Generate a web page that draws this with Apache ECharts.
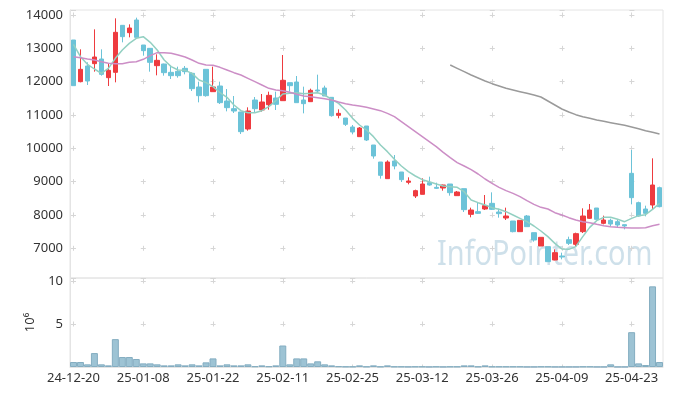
<!DOCTYPE html>
<html>
<head>
<meta charset="utf-8">
<script src="https://cdn.jsdelivr.net/npm/echarts@6/dist/echarts.min.js"></script>
<style>
html,body{margin:0;padding:0;background:#fff;}
#chart{width:673px;height:396px;}
</style>
</head>
<body>
<div id="chart"></div>
<script>
const dates = ['24-12-20','24-12-23','24-12-24','24-12-26','24-12-27','24-12-30','25-01-02','25-01-03','25-01-06','25-01-07',
'25-01-08','25-01-09','25-01-10','25-01-13','25-01-14','25-01-15','25-01-16','25-01-17','25-01-20','25-01-21',
'25-01-22','25-01-23','25-01-24','25-01-31','25-02-03','25-02-04','25-02-05','25-02-06','25-02-07','25-02-10',
'25-02-11','25-02-12','25-02-13','25-02-14','25-02-17','25-02-18','25-02-19','25-02-20','25-02-21','25-02-24',
'25-02-25','25-02-26','25-02-27','25-02-28','25-03-04','25-03-05','25-03-06','25-03-07','25-03-10','25-03-11',
'25-03-12','25-03-13','25-03-14','25-03-17','25-03-18','25-03-19','25-03-20','25-03-21','25-03-24','25-03-25',
'25-03-26','25-03-27','25-03-28','25-03-31','25-04-01','25-04-02','25-04-03','25-04-04','25-04-07','25-04-08',
'25-04-09','25-04-10','25-04-11','25-04-14','25-04-15','25-04-16','25-04-17','25-04-18','25-04-21','25-04-22',
'25-04-23','25-04-24','25-04-25','25-04-28','25-04-29'];

const openP = [13250,12000,12470,12540,12680,12120,12280,13690,13470,13850,
13100,13000,12480,12530,12280,12310,12400,12250,11840,12370,
11700,11870,11420,11190,11090,10580,11450,11150,11310,11510,
11430,11970,11990,11450,11400,11750,11810,11530,10990,10910,
10640,10350,10670,10100,9590,9090,9620,9290,8980,8570,
8620,8970,8830,8810,8930,8580,8790,8020,8100,8180,
8350,8090,7910,7820,7500,7970,7470,7070,7050,6650,
6770,7260,7120,7500,7900,8210,7750,7840,7800,7710,
9250,8370,8180,8300,8820];
const closeP = [11880,12370,12020,12740,12220,12340,13480,13350,13610,13330,
12930,12580,12640,12270,12180,12180,12300,11790,11580,11580,
11840,11370,11220,11120,10500,11120,11190,11390,11590,11320,
12040,11880,11370,11340,11740,11720,11570,10980,11050,10720,
10490,10610,10250,9770,9190,9590,9470,9060,9020,8730,
8930,8900,8800,8900,8670,8690,8160,8150,8050,8280,
8170,8040,7970,7500,7840,7650,7250,7330,6600,6870,
6740,7150,7440,7970,8150,7870,7850,7730,7700,7670,
8520,7970,8050,8900,8250];
const lowP = [11880,11980,11900,12300,12180,11870,11980,13180,13330,13330,
12780,12300,12190,12180,12080,12120,12220,11720,11380,11550,
11700,11330,11110,11060,10430,10530,11060,11100,11160,11150,
11430,11700,11370,11050,11400,11660,11570,10950,10900,10670,
10420,10350,10220,9690,9090,9090,9370,8990,8920,8510,
8620,8880,8780,8730,8580,8570,8090,7930,8030,8150,
8150,7920,7850,7480,7500,7650,7200,7070,6600,6640,
6670,7100,7060,7460,7880,7870,7720,7670,7630,7570,
8320,7950,7960,8170,8230];
const highP = [13250,12970,12580,13570,12970,12550,13900,13700,13720,13920,
13100,13010,12820,12540,12480,12450,12470,12280,12000,12370,
12450,12000,11780,11570,11090,11230,11540,11630,11700,11700,
12800,11970,12170,11850,11790,12210,11880,11530,11170,10910,
10700,10640,10670,10100,9590,9640,9800,9290,9130,8760,
9100,9150,8970,8910,8930,8720,8790,8220,8390,8600,
8680,8190,8220,7820,7840,8000,7470,7330,7050,6970,
6870,7350,7470,8200,8330,8210,7980,7890,7850,7710,
9950,8400,8280,9700,8850];

const ma5 = [13120,12750,12520,12380,12250,12400,12700,12950,13150,13300,
13350,13180,12950,12650,12450,12350,12340,12250,12050,11970,
11850,11670,11530,11300,11130,11070,11070,11130,11250,11430,
11630,11650,11670,11640,11650,11670,11600,11470,11350,11150,
10900,10700,10550,10350,10100,9900,9670,9470,9300,9170,
9060,9000,8930,8870,8850,8830,8700,8450,8370,8300,
8220,8170,8100,8000,7900,7800,7670,7520,7350,7150,
6980,6970,7050,7350,7630,7830,7930,7930,7870,7800,
7900,7980,8010,8170,8350];
const ma20 = [12750,12720,12680,12650,12600,12550,12540,12540,12580,12600,
12670,12780,12870,12870,12850,12800,12740,12650,12550,12500,
12490,12430,12350,12270,12200,12100,12000,11900,11800,11750,
11730,11680,11620,11570,11550,11520,11490,11450,11390,11340,
11300,11270,11230,11180,11130,11050,10950,10800,10650,10500,
10350,10200,10050,9880,9720,9570,9470,9360,9230,9080,
8950,8830,8730,8650,8550,8430,8320,8230,8180,8070,
8000,7920,7850,7800,7770,7720,7680,7650,7630,7620,
7610,7610,7620,7680,7720];
const ma60 = [null,null,null,null,null,null,null,null,null,null,
null,null,null,null,null,null,null,null,null,null,
null,null,null,null,null,null,null,null,null,null,
null,null,null,null,null,null,null,null,null,null,
null,null,null,null,null,null,null,null,null,null,
null,null,null,null,12500,12400,12300,12200,12110,12020,
11940,11870,11800,11750,11700,11650,11600,11540,11420,11300,
11180,11090,11010,10950,10900,10850,10810,10770,10730,10690,
10640,10590,10530,10480,10430];
// volume in millions
const volume = [0.58,0.58,0.31,1.62,0.31,0.19,3.24,1.16,1.16,0.93,
0.42,0.42,0.31,0.19,0.19,0.31,0.19,0.31,0.19,0.54,
1.0,0.19,0.31,0.19,0.19,0.31,0.08,0.19,0.08,0.19,
2.5,0.31,1.0,1.0,0.42,0.66,0.31,0.19,0.08,0.05,
0.05,0.19,0.05,0.19,0.05,0.19,0.05,0.05,0.03,0.05,
0.05,0.02,0.05,0.02,0.05,0.05,0.19,0.19,0.05,0.19,
0.05,0.05,0.05,0.05,0.05,0.02,0.02,0.05,0.05,0.02,
0.02,0.02,0.02,0.05,0.05,0.02,0.02,0.31,0.02,0.02,
4.05,0.42,0.23,9.38,0.58];

const candles = dates.map((d, i) => [openP[i], closeP[i], lowP[i], highP[i]]);

const FONT = 'Noto Sans';
const crossColor = '#d6d6d6';
const chart = echarts.init(document.getElementById('chart'));
chart.setOption({
  animation: false,
  backgroundColor: '#fff',
  grid: [
    {left: 70, right: 10, top: 10, height: 268, show: true, borderColor: '#e4e4e4', borderWidth: 1},
    {left: 70, right: 10, top: 278, height: 89, show: true, borderColor: '#e4e4e4', borderWidth: 1}
  ],
  graphic: [{
    type: 'text', left: 437, top: 238, scaleX: 0.85, z: 0, zlevel: 0,
    style: {text: 'InfoPointer.com', font: '34px "Noto Sans"', fill: 'rgba(165,198,216,0.55)'}
  }],
  xAxis: [
    {type: 'category', gridIndex: 0, data: dates, boundaryGap: true,
     axisLine: {show: false}, axisTick: {show: false}, axisLabel: {show: false, interval: 9},
     splitLine: {show: true, interval: 9, alignWithLabel: true,
       lineStyle: {color: crossColor, width: 1, type: [5, 28.33], dashOffset: 30.83}}},
    {type: 'category', gridIndex: 1, data: dates, boundaryGap: true,
     axisLine: {show: true, lineStyle: {color: '#e4e4e4'}}, axisTick: {show: false},
     axisLabel: {show: true, interval: 9, margin: 5, fontSize: 13, fontFamily: FONT, color: '#333'},
     splitLine: {show: true, interval: 9, alignWithLabel: true,
       lineStyle: {color: crossColor, width: 1, type: [5, 38], dashOffset: 42.5}}}
  ],
  yAxis: [
    {type: 'value', gridIndex: 0, min: 6110, max: 14150, splitNumber: 8, scale: true,
     axisLine: {show: true, lineStyle: {color: '#e4e4e4'}}, axisTick: {show: false},
     axisLabel: {margin: 7, fontSize: 13, fontFamily: FONT, color: '#333',
       formatter: v => (Math.abs(v % 1000) < 1e-6 ? String(v) : '')},
     splitLine: {show: true, lineStyle: {color: crossColor, width: 1, type: [5, 64.8], dashOffset: 68.8}}},
    {type: 'value', gridIndex: 1, min: 0, max: 10.35, splitNumber: 2,
     name: '10\u2076', nameLocation: 'middle', nameGap: 33, nameRotate: 90,
     nameTextStyle: {fontSize: 13, fontFamily: FONT, color: '#333'},
     axisLine: {show: true, lineStyle: {color: '#e4e4e4'}}, axisTick: {show: false},
     axisLabel: {margin: 7, fontSize: 13, fontFamily: FONT, color: '#333',
       formatter: v => (v === 5 || v === 10 ? String(v) : '')},
     splitLine: {show: true, lineStyle: {color: crossColor, width: 1, type: [5, 64.8], dashOffset: 68.8}}}
  ],
  series: [
    {type: 'candlestick', xAxisIndex: 0, yAxisIndex: 0, data: candles, barWidth: 5, z: 3,
     itemStyle: {color: '#ee3b3f', color0: '#6cc3d8', borderColor: '#ee3b3f', borderColor0: '#6cc3d8', borderWidth: 1}},
    {type: 'line', xAxisIndex: 0, yAxisIndex: 0, data: ma5, showSymbol: false, smooth: false, z: 4,
     lineStyle: {color: '#93d0c2', width: 1.5}},
    {type: 'line', xAxisIndex: 0, yAxisIndex: 0, data: ma20, showSymbol: false, z: 4,
     lineStyle: {color: '#cc8ec6', width: 1.5}},
    {type: 'line', xAxisIndex: 0, yAxisIndex: 0, data: ma60, showSymbol: false, z: 4,
     lineStyle: {color: '#9a9a9a', width: 1.5}},
    {type: 'bar', xAxisIndex: 1, yAxisIndex: 1, data: volume, barCategoryGap: '0%',
     itemStyle: {color: '#9dc3d4', borderColor: '#84adc1', borderWidth: 1}}
  ]
});
</script>
</body>
</html>
